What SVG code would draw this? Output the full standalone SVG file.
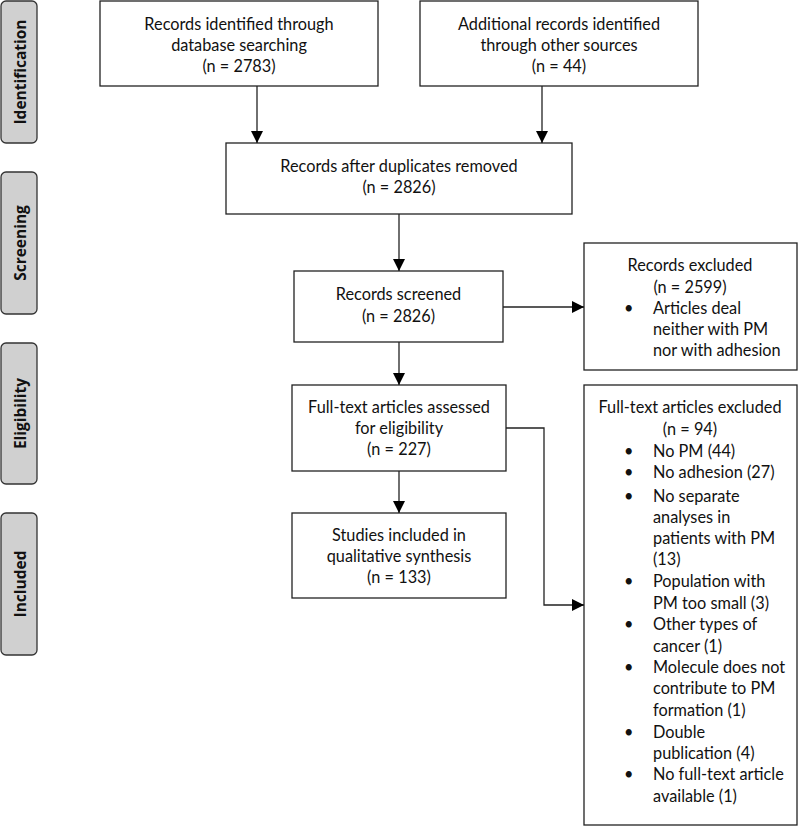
<svg xmlns="http://www.w3.org/2000/svg" width="798" height="826" viewBox="0 0 798 826">
<defs>
<marker id="ah" markerWidth="12" markerHeight="12" refX="12" refY="6" orient="auto" markerUnits="userSpaceOnUse">
<path d="M0,0 L12,6 L0,12 Z" fill="#000"/>
</marker>
<style>
.box{fill:#fff;stroke:#222;stroke-width:1.3}
.tab{fill:#d0d0d0;stroke:#333;stroke-width:1.3}
.t{font-family:Lato,"Open Sans","Liberation Sans",sans-serif;font-size:16.3px;fill:#111;text-anchor:middle}
.l{font-family:Lato,"Open Sans","Liberation Sans",sans-serif;font-size:16.3px;fill:#111}
.tl{font-family:"Open Sans","Liberation Sans",sans-serif;font-size:15.5px;font-weight:bold;fill:#111;text-anchor:middle}
.c{fill:none;stroke:#222;stroke-width:1.3}
</style>
</defs>
<g id="tab-identification"><rect class="tab" x="1" y="1" width="36" height="142" rx="5"/><text class="tl" transform="translate(25.5,72) rotate(-90)">Identification</text></g>
<g id="tab-screening"><rect class="tab" x="1" y="172" width="36" height="142" rx="5"/><text class="tl" transform="translate(25.5,243) rotate(-90)">Screening</text></g>
<g id="tab-eligibility"><rect class="tab" x="1" y="343" width="36" height="141" rx="5"/><text class="tl" transform="translate(25.5,413.5) rotate(-90)">Eligibility</text></g>
<g id="tab-included"><rect class="tab" x="1" y="513" width="36" height="142" rx="5"/><text class="tl" transform="translate(25.5,584) rotate(-90)">Included</text></g>

<g id="db"><rect class="box" x="100" y="1" width="278" height="85"/>
<text class="t" x="239" y="30">Records identified through</text>
<text class="t" x="239" y="51">database searching</text>
<text class="t" x="239" y="72">(n = 2783)</text></g>

<g id="other"><rect class="box" x="420" y="1" width="278" height="85"/>
<text class="t" x="559" y="30">Additional records identified</text>
<text class="t" x="559" y="51">through other sources</text>
<text class="t" x="559" y="72">(n = 44)</text></g>

<g id="dups"><rect class="box" x="226" y="143" width="346" height="71"/>
<text class="t" x="399" y="172">Records after duplicates removed</text>
<text class="t" x="399" y="193">(n = 2826)</text></g>

<g id="screened"><rect class="box" x="294" y="271" width="209" height="71"/>
<text class="t" x="398.5" y="300">Records screened</text>
<text class="t" x="398.5" y="322">(n = 2826)</text></g>

<g id="excluded1"><rect class="box" x="584" y="243" width="213" height="127"/>
<text class="t" x="690" y="271">Records excluded</text>
<text class="t" x="690" y="293">(n = 2599)</text>
<text class="l" x="624" y="314">•</text>
<text class="l" x="653" y="314">Articles deal</text>
<text class="l" x="653" y="335">neither with PM</text>
<text class="l" x="653" y="356">nor with adhesion</text></g>

<g id="fulltext"><rect class="box" x="292" y="385" width="214" height="86"/>
<text class="t" x="399" y="413">Full-text articles assessed</text>
<text class="t" x="399" y="434">for eligibility</text>
<text class="t" x="399" y="455">(n = 227)</text></g>

<g id="excluded2"><rect class="box" x="584" y="385" width="213" height="440"/>
<text class="t" x="690" y="413">Full-text articles excluded</text>
<text class="t" x="690" y="435">(n = 94)</text>
<g class="l">
<text x="624" y="457">•</text><text x="653" y="457">No PM (44)</text>
<text x="624" y="478">•</text><text x="653" y="478">No adhesion (27)</text>
<text x="624" y="502">•</text><text x="653" y="502">No separate</text>
<text x="653" y="523">analyses in</text>
<text x="653" y="544">patients with PM</text>
<text x="653" y="565">(13)</text>
<text x="624" y="587">•</text><text x="653" y="587">Population with</text>
<text x="653" y="609">PM too small (3)</text>
<text x="624" y="630">•</text><text x="653" y="630">Other types of</text>
<text x="653" y="652">cancer (1)</text>
<text x="624" y="673">•</text><text x="653" y="673">Molecule does not</text>
<text x="653" y="694">contribute to PM</text>
<text x="653" y="716">formation (1)</text>
<text x="624" y="738">•</text><text x="653" y="738">Double</text>
<text x="653" y="759">publication (4)</text>
<text x="624" y="780">•</text><text x="653" y="780">No full-text article</text>
<text x="653" y="802">available (1)</text>
</g></g>

<g id="included"><rect class="box" x="292" y="513" width="214" height="85"/>
<text class="t" x="399" y="541">Studies included in</text>
<text class="t" x="399" y="562">qualitative synthesis</text>
<text class="t" x="399" y="583">(n = 133)</text></g>

<g id="connectors">
<line class="c" x1="257" y1="86" x2="257" y2="143" marker-end="url(#ah)"/>
<line class="c" x1="542" y1="86" x2="542" y2="143" marker-end="url(#ah)"/>
<line class="c" x1="399" y1="214" x2="399" y2="271" marker-end="url(#ah)"/>
<line class="c" x1="503" y1="307" x2="584" y2="307" marker-end="url(#ah)"/>
<line class="c" x1="399" y1="342" x2="399" y2="385" marker-end="url(#ah)"/>
<line class="c" x1="399" y1="471" x2="399" y2="513" marker-end="url(#ah)"/>
<polyline class="c" points="506,428 544,428 544,605 584,605" marker-end="url(#ah)"/>
</g>
</svg>
